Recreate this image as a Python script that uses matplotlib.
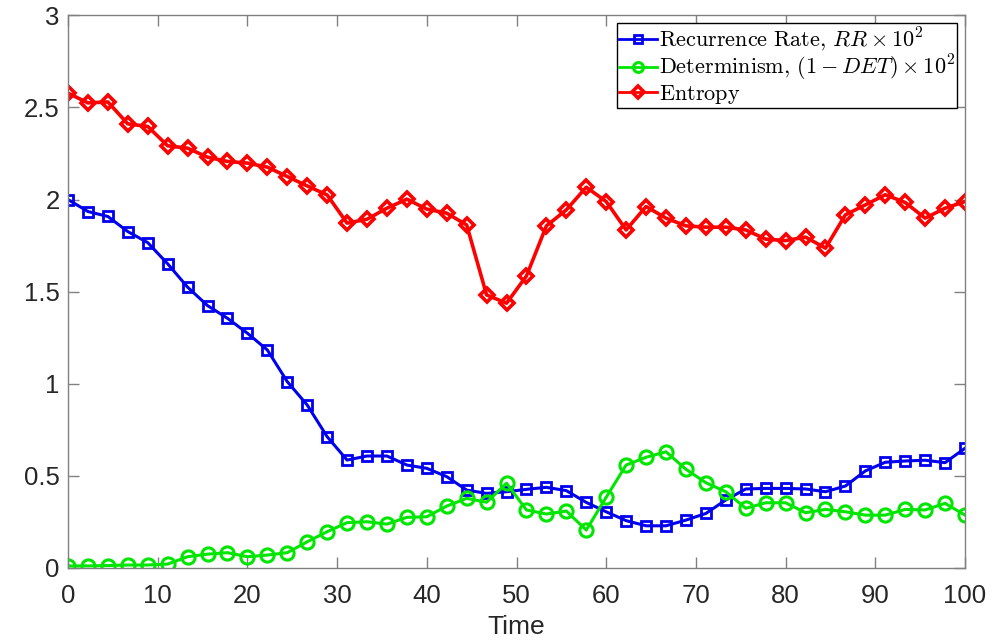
import matplotlib.pyplot as plt
import numpy as np

plt.rcParams['font.family'] = ['Liberation Sans', 'DejaVu Sans']
plt.rcParams['mathtext.fontset'] = 'cm'

time = np.linspace(0, 100, 46)

rr = [2.00, 1.935, 1.908, 1.826, 1.766, 1.651, 1.524, 1.424, 1.355, 1.274,
      1.183, 1.011, 0.884, 0.712, 0.585, 0.607, 0.607, 0.558, 0.540, 0.495,
      0.422, 0.404, 0.413, 0.426, 0.437, 0.419, 0.355, 0.304, 0.256, 0.228,
      0.228, 0.259, 0.295, 0.368, 0.428, 0.431, 0.431, 0.428, 0.413, 0.444,
      0.526, 0.573, 0.580, 0.584, 0.571, 0.649]

det = [0.01, 0.01, 0.012, 0.015, 0.015, 0.02, 0.06, 0.074, 0.082, 0.06,
       0.069, 0.082, 0.141, 0.196, 0.245, 0.25, 0.237, 0.274, 0.277, 0.335,
       0.377, 0.356, 0.459, 0.314, 0.292, 0.308, 0.205, 0.383, 0.558, 0.60,
       0.630, 0.535, 0.462, 0.413, 0.323, 0.353, 0.353, 0.299, 0.317, 0.304,
       0.286, 0.286, 0.317, 0.314, 0.35, 0.286]

entropy = [2.578, 2.525, 2.53, 2.411, 2.397, 2.292, 2.279, 2.230, 2.207, 2.198,
           2.176, 2.125, 2.074, 2.025, 1.872, 1.893, 1.953, 2.002, 1.948, 1.926,
           1.862, 1.482, 1.437, 1.585, 1.857, 1.944, 2.067, 1.989, 1.835, 1.962,
           1.899, 1.857, 1.850, 1.850, 1.835, 1.785, 1.777, 1.796, 1.736, 1.917,
           1.971, 2.026, 1.984, 1.899, 1.953, 1.989]

labels = [r'$\mathrm{Recurrence\ Rate,}\,RR \times 10^2$',
          r'$\mathrm{Determinism,}\,(1 - DET) \times 10^2$',
          r'$\mathrm{Entropy}$']

fig = plt.figure(figsize=(10, 6.43), dpi=100)
ax = fig.add_axes([0.068, 0.117, 0.897, 0.859])

ax.plot(time, rr, '-s', color='#0000ee', lw=2.2, ms=7, mfc='none', mew=2, label=labels[0])
ax.plot(time, det, '-o', color='#00e600', lw=2.2, ms=9.5, mfc='none', mew=2.2, label=labels[1])
ax.plot(time, entropy, '-D', color='#ff0000', lw=2.6, ms=7.5, mfc='none', mew=2.6, label=labels[2])

ax.set_xlim(0, 100)
ax.set_ylim(0, 3)
ax.set_xticks(np.arange(0, 101, 10))
ax.set_yticks([0, 0.5, 1, 1.5, 2, 2.5, 3])
ax.set_yticklabels(['0', '0.5', '1', '1.5', '2', '2.5', '3'])
ax.tick_params(direction='in', top=True, right=True, length=8, width=1,
               color='#808080', labelsize=18.5, labelcolor='#262626')
ax.tick_params(axis='x', pad=12)
ax.tick_params(axis='y', pad=6)
for s in ax.spines.values():
    s.set_color('#808080')
    s.set_linewidth(1)
ax.set_xlabel('Time', fontsize=19, color='#262626', labelpad=5)

leg = ax.legend(loc='upper right', fontsize=16, frameon=True, fancybox=False,
                edgecolor='black', framealpha=1, borderpad=0.1, labelspacing=0.0,
                handlelength=1.7, handletextpad=0.1, borderaxespad=0.35, markerscale=0.75)
leg.get_frame().set_linewidth(1)
for line in leg.get_lines():
    line.set_linewidth(2)

plt.savefig('out.png', dpi=100)
